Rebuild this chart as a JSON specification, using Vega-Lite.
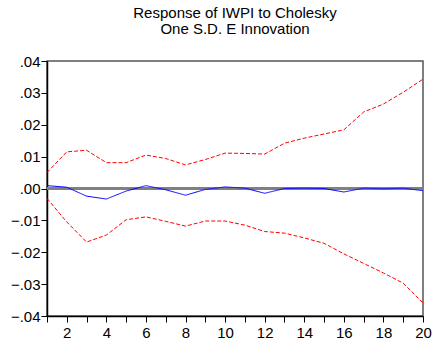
{
  "$schema": "https://vega.github.io/schema/vega-lite/v6.json",
  "autosize": "none",
  "width": 376,
  "height": 255,
  "padding": {"left": 47, "top": 61, "right": 10, "bottom": 26},
  "background": "white",
  "title": {
    "text": ["Response of IWPI to Cholesky", "One S.D. E Innovation"],
    "font": "Liberation Sans",
    "fontSize": 15,
    "fontWeight": "normal",
    "color": "#000000",
    "anchor": "middle",
    "offset": 17,
    "lineHeight": 16
  },
  "config": {
    "view": {"stroke": "#555555", "strokeWidth": 1.5},
    "axis": {"grid": false, "domainColor": "#000000", "tickColor": "#000000", "labelColor": "#000000", "labelFont": "Liberation Sans", "labelFontSize": 15, "domainWidth": 1.5}
  },
  "data": {
    "values": [
      {"step": 1, "s": "resp", "v": 0.0009}, {"step": 2, "s": "resp", "v": 0.0004}, {"step": 3, "s": "resp", "v": -0.0024}, {"step": 4, "s": "resp", "v": -0.0033}, {"step": 5, "s": "resp", "v": -0.0008}, {"step": 6, "s": "resp", "v": 0.0009}, {"step": 7, "s": "resp", "v": -0.0004}, {"step": 8, "s": "resp", "v": -0.0021}, {"step": 9, "s": "resp", "v": -0.0003}, {"step": 10, "s": "resp", "v": 0.0005},
      {"step": 11, "s": "resp", "v": 0.0001}, {"step": 12, "s": "resp", "v": -0.0015}, {"step": 13, "s": "resp", "v": 0.0}, {"step": 14, "s": "resp", "v": 0.0001}, {"step": 15, "s": "resp", "v": 0.0}, {"step": 16, "s": "resp", "v": -0.0011}, {"step": 17, "s": "resp", "v": 0.0001}, {"step": 18, "s": "resp", "v": -0.0001}, {"step": 19, "s": "resp", "v": 0.0001}, {"step": 20, "s": "resp", "v": -0.0007},
      {"step": 1, "s": "upper", "v": 0.0050}, {"step": 2, "s": "upper", "v": 0.0115}, {"step": 3, "s": "upper", "v": 0.0120}, {"step": 4, "s": "upper", "v": 0.0081}, {"step": 5, "s": "upper", "v": 0.0081}, {"step": 6, "s": "upper", "v": 0.0105}, {"step": 7, "s": "upper", "v": 0.0094}, {"step": 8, "s": "upper", "v": 0.0074}, {"step": 9, "s": "upper", "v": 0.0091}, {"step": 10, "s": "upper", "v": 0.0111},
      {"step": 11, "s": "upper", "v": 0.0110}, {"step": 12, "s": "upper", "v": 0.0108}, {"step": 13, "s": "upper", "v": 0.0142}, {"step": 14, "s": "upper", "v": 0.0158}, {"step": 15, "s": "upper", "v": 0.0171}, {"step": 16, "s": "upper", "v": 0.0184}, {"step": 17, "s": "upper", "v": 0.0240}, {"step": 18, "s": "upper", "v": 0.0265}, {"step": 19, "s": "upper", "v": 0.0302}, {"step": 20, "s": "upper", "v": 0.0343},
      {"step": 1, "s": "lower", "v": -0.0031}, {"step": 2, "s": "lower", "v": -0.0105}, {"step": 3, "s": "lower", "v": -0.0168}, {"step": 4, "s": "lower", "v": -0.0146}, {"step": 5, "s": "lower", "v": -0.0098}, {"step": 6, "s": "lower", "v": -0.0089}, {"step": 7, "s": "lower", "v": -0.0103}, {"step": 8, "s": "lower", "v": -0.0118}, {"step": 9, "s": "lower", "v": -0.0102}, {"step": 10, "s": "lower", "v": -0.0102},
      {"step": 11, "s": "lower", "v": -0.0115}, {"step": 12, "s": "lower", "v": -0.0135}, {"step": 13, "s": "lower", "v": -0.0140}, {"step": 14, "s": "lower", "v": -0.0155}, {"step": 15, "s": "lower", "v": -0.0172}, {"step": 16, "s": "lower", "v": -0.0205}, {"step": 17, "s": "lower", "v": -0.0235}, {"step": 18, "s": "lower", "v": -0.0265}, {"step": 19, "s": "lower", "v": -0.0297}, {"step": 20, "s": "lower", "v": -0.0359}
    ]
  },
  "layer": [
    {
      "mark": {"type": "rule", "color": "#808080", "strokeWidth": 1.5},
      "encoding": {
        "y": {
          "datum": 0, "type": "quantitative",
          "scale": {"domain": [-0.04, 0.04], "nice": false},
          "axis": {"title": null, "values": [-0.04,-0.03,-0.02,-0.01,0,0.01,0.02,0.03,0.04], "labelExpr": "replace(format(datum.value, '.2f'), '0.', '.')", "tickSize": 6, "labelPadding": 1, "labelOverlap": false, "labelFlush": false}
        }
      }
    },
    {
      "mark": {"type": "line", "strokeWidth": 1},
      "encoding": {
        "x": {
          "field": "step", "type": "quantitative",
          "scale": {"domain": [1, 20], "nice": false, "zero": false},
          "axis": {"title": null, "values": [1,2,3,4,5,6,7,8,9,10,11,12,13,14,15,16,17,18,19,20], "labelExpr": "datum.value % 2 == 0 ? datum.value : ''", "tickSize": 6, "labelPadding": 3, "labelFlush": false, "labelOverlap": false}
        },
        "y": {
          "field": "v", "type": "quantitative",
          "scale": {"domain": [-0.04, 0.04], "nice": false},
          "axis": {"title": null, "values": [-0.04,-0.03,-0.02,-0.01,0,0.01,0.02,0.03,0.04], "labelExpr": "replace(format(datum.value, '.2f'), '0.', '.')", "tickSize": 6, "labelPadding": 1, "labelOverlap": false, "labelFlush": false}
        },
        "color": {"field": "s", "type": "nominal", "scale": {"domain": ["resp", "upper", "lower"], "range": ["#0000ff", "#ff0000", "#ff0000"]}, "legend": null},
        "strokeDash": {"field": "s", "type": "nominal", "scale": {"domain": ["resp", "upper", "lower"], "range": [[1, 0], [4, 2], [4, 2]]}, "legend": null},
        "detail": {"field": "s"}
      }
    }
  ]
}
